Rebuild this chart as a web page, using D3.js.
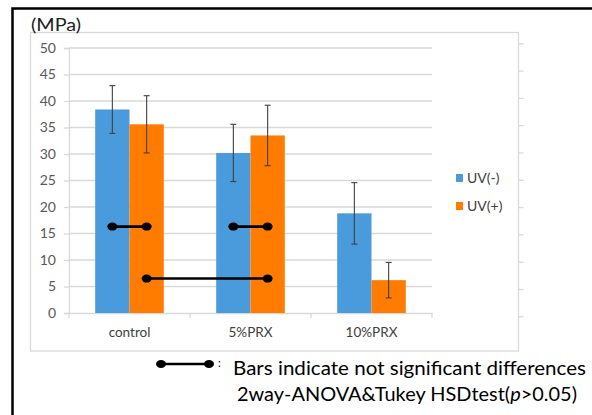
<!DOCTYPE html>
<html><head><meta charset="utf-8">
<script src="https://cdn.jsdelivr.net/npm/d3@7"></script>
<style>body{margin:0;background:#fff;} svg{display:block;}</style>
</head><body>
<svg id="c" width="592" height="415"></svg>
<script>
const categories = ["control", "5%PRX", "10%PRX"];
const seriesNames = ["UV(-)", "UV(+)"];
const uvMinus = [38.4, 30.2, 18.8];
const uvMinusErr = [4.5, 5.4, 5.8];
const uvPlus = [35.6, 33.5, 6.2];
const uvPlusErr = [5.4, 5.7, 3.35];
const yTicks = [0, 5, 10, 15, 20, 25, 30, 35, 40, 45, 50];
// not-significant pairs: [category, series] -> [category, series] at value
const nsPairs = [
  {a: ["control", "UV(-)"], b: ["control", "UV(+)"], v: 16.3},
  {a: ["5%PRX", "UV(-)"], b: ["5%PRX", "UV(+)"], v: 16.3},
  {a: ["control", "UV(+)"], b: ["5%PRX", "UV(+)"], v: 6.5}
];
const secondaryTicks = [0,1,2,3,4,5,6,7,8,9,10];

const colors = {"UV(-)": "#4a9bdc", "UV(+)": "#ff7c00"};
const svg = d3.select("#c");
const font = "Lato, 'Open Sans', sans-serif";

// outer black frame
svg.append("rect").attr("x", 12.5).attr("y", 8.5).attr("width", 600).attr("height", 420)
  .attr("fill", "none").attr("stroke", "#000").attr("stroke-width", 2.5);

// chart border
svg.append("rect").attr("x", 30.5).attr("y", 32.5).attr("width", 488).attr("height", 318.5)
  .attr("fill", "#fff").attr("stroke", "#d9d9d9").attr("stroke-width", 1.3);

const x0 = d3.scaleBand().domain(categories).range([69, 432]).paddingInner(0.433).paddingOuter(0.2165);
const x1 = d3.scaleBand().domain(seriesNames).range([0, x0.bandwidth()]);
const y = d3.scaleLinear().domain([0, 50]).range([313, 48]);

// gridlines
svg.append("g").selectAll("line").data(yTicks.filter(d => d > 0)).join("line")
  .attr("x1", 69).attr("x2", 432).attr("y1", d => y(d)).attr("y2", d => y(d))
  .attr("stroke", "#d9d9d9").attr("stroke-width", 1.3);

// y axis
const yAxis = svg.append("g").attr("transform", "translate(69,0)")
  .call(d3.axisLeft(y).tickValues(yTicks).tickSize(5).tickPadding(8));
yAxis.select(".domain").attr("stroke", "#d9d9d9").attr("stroke-width", 1.3);
yAxis.selectAll(".tick line").attr("stroke", "#d9d9d9").attr("stroke-width", 1.3);
yAxis.selectAll("text").attr("font-family", font).attr("font-size", 14).attr("fill", "#595959");

// x axis
const xAxis = svg.append("g").attr("transform", "translate(0,313)")
  .call(d3.axisBottom(x0).tickSize(0).tickPadding(14));
xAxis.select(".domain").attr("stroke", "#d9d9d9").attr("stroke-width", 1.3);
xAxis.selectAll("text").attr("font-family", font).attr("font-size", 13.5).attr("fill", "#404040");
// category boundary ticks
const bounds = [69].concat(categories.map(c => x0(c) + x0.bandwidth() + x0.step() * x0.paddingInner() / 2));
svg.append("g").selectAll("line").data(bounds).join("line")
  .attr("x1", d => d).attr("x2", d => d).attr("y1", 313).attr("y2", 318)
  .attr("stroke", "#d9d9d9").attr("stroke-width", 1.3);

// secondary (right) tick artifact
const ySec = d3.scaleLinear().domain([0, 10]).range([316.3, 43.3]);
const secAxis = svg.append("g").attr("transform", "translate(518.5,0)")
  .call(d3.axisRight(ySec).tickValues(secondaryTicks).tickSize(5).tickFormat(""));
secAxis.select(".domain").remove();
secAxis.selectAll(".tick line").attr("stroke", "#d9d9d9").attr("stroke-width", 1.3);

// bars
const data = [];
categories.forEach((c, i) => {
  data.push({c, s: "UV(-)", v: uvMinus[i], e: uvMinusErr[i]});
  data.push({c, s: "UV(+)", v: uvPlus[i], e: uvPlusErr[i]});
});
svg.append("g").selectAll("rect").data(data).join("rect")
  .attr("x", d => x0(d.c) + x1(d.s)).attr("width", x1.bandwidth())
  .attr("y", d => y(d.v)).attr("height", d => y(0) - y(d.v))
  .attr("fill", d => colors[d.s]);

// error bars
const cx = (c, s) => x0(c) + x1(s) + x1.bandwidth() / 2;
const eb = svg.append("g").attr("stroke", "#404040").attr("stroke-width", 1.1);
data.forEach(d => {
  const xc = cx(d.c, d.s);
  eb.append("line").attr("x1", xc).attr("x2", xc).attr("y1", y(d.v + d.e)).attr("y2", y(d.v - d.e));
  [d.v + d.e, d.v - d.e].forEach(v => eb.append("line").attr("x1", xc - 3).attr("x2", xc + 3).attr("y1", y(v)).attr("y2", y(v)));
});

// significance markers
const ns = svg.append("g");
nsPairs.forEach(p => {
  const xa = cx(p.a[0], p.a[1]), xb = cx(p.b[0], p.b[1]), yy = y(p.v);
  ns.append("line").attr("x1", xa).attr("x2", xb).attr("y1", yy).attr("y2", yy).attr("stroke", "#000").attr("stroke-width", 2.6);
  [xa, xb].forEach(xx => ns.append("ellipse").attr("cx", xx).attr("cy", yy).attr("rx", 5).attr("ry", 4).attr("fill", "#000"));
});

// legend
const lg = svg.append("g");
seriesNames.forEach((s, i) => {
  lg.append("rect").attr("x", 456).attr("y", 174 + i * 28).attr("width", 7).attr("height", 8).attr("fill", colors[s]);
  lg.append("text").attr("x", 467).attr("y", 183 + i * 28).text(s)
    .attr("font-family", font).attr("font-size", 14).attr("fill", "#404040");
});

// unit label
svg.append("text").attr("x", 31).attr("y", 30.5).text("(MPa)")
  .attr("font-family", font).attr("font-size", 17.5).attr("fill", "#222")
  .attr("textLength", 50).attr("lengthAdjust", "spacingAndGlyphs");

// footnote
const fn = svg.append("g");
fn.append("line").attr("x1", 161).attr("x2", 209).attr("y1", 364).attr("y2", 364).attr("stroke", "#000").attr("stroke-width", 2.6);
[161, 209].forEach(xx => fn.append("ellipse").attr("cx", xx).attr("cy", 364).attr("rx", 5).attr("ry", 4).attr("fill", "#000"));
fn.append("text").attr("x", 218).attr("y", 367).text(":").attr("font-family", font).attr("font-size", 11).attr("fill", "#000");
fn.append("text").attr("x", 233).attr("y", 375).text("Bars indicate not significant differences")
  .attr("font-family", font).attr("font-size", 18.5).attr("fill", "#000")
  .attr("textLength", 353).attr("lengthAdjust", "spacingAndGlyphs");
const t2 = fn.append("text").attr("x", 237).attr("y", 401)
  .attr("font-family", font).attr("font-size", 18.5).attr("fill", "#000")
  .attr("textLength", 340).attr("lengthAdjust", "spacingAndGlyphs");
t2.append("tspan").text("2way-ANOVA&Tukey HSDtest(");
t2.append("tspan").attr("font-style", "italic").text("p");
t2.append("tspan").text(">0.05)");
</script>
</body></html>
